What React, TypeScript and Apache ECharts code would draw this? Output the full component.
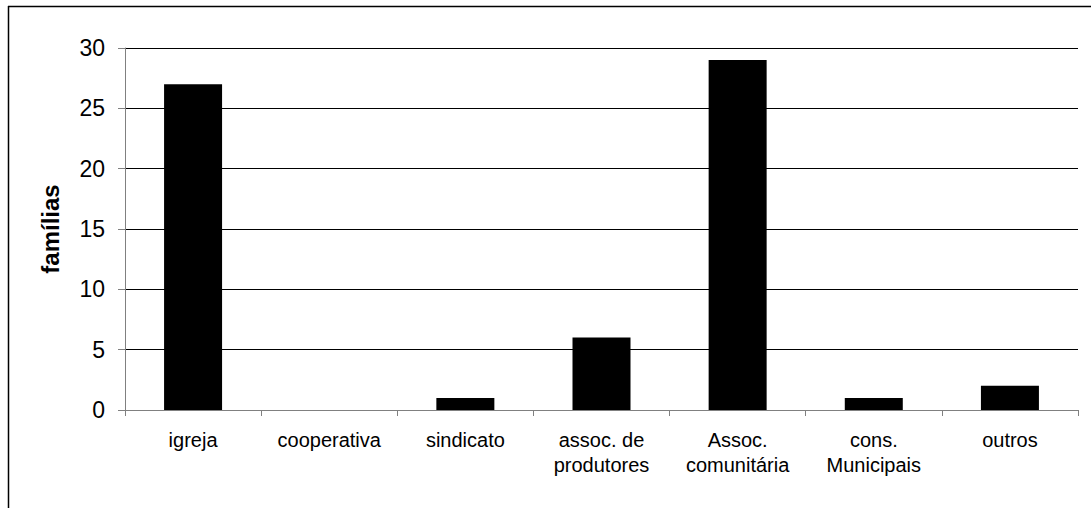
import React, { useEffect, useRef } from "react";
import * as echarts from "echarts";

const categories = [
  "igreja",
  "cooperativa",
  "sindicato",
  "assoc. de\nprodutores",
  "Assoc.\ncomunitária",
  "cons.\nMunicipais",
  "outros",
];
const values = [27, 0, 1, 6, 29, 1, 2];
const yTicks = { min: 0, max: 30, interval: 5 };
const yName = "famílias";

export default function App() {
  const ref = useRef<HTMLDivElement>(null);
  useEffect(() => {
    const chart = echarts.init(ref.current!, null, { renderer: "svg" });
    chart.setOption({
      animation: false,
      backgroundColor: "#ffffff",
      grid: { left: 125, right: 13, top: 48, bottom: 98 },
      graphic: [
        {
          type: "line",
          shape: { x1: 8.5, y1: 6, x2: 8.5, y2: 508 },
          style: { stroke: "#000", lineWidth: 1.5 },
        },
        {
          type: "line",
          shape: { x1: 8, y1: 6.5, x2: 1091, y2: 6.5 },
          style: { stroke: "#000", lineWidth: 1.5 },
        },
      ],
      xAxis: {
        type: "category",
        data: categories,
        axisLine: { lineStyle: { color: "#808080", width: 1 } },
        axisTick: { show: true, length: 6, alignWithLabel: false, lineStyle: { color: "#808080" } },
        axisLabel: {
          color: "#000",
          fontFamily: "Arial, Liberation Sans, sans-serif",
          fontSize: 20,
          lineHeight: 25,
          margin: 17,
          interval: 0,
        },
      },
      yAxis: {
        type: "value",
        min: yTicks.min,
        max: yTicks.max,
        interval: yTicks.interval,
        name: yName,
        nameLocation: "middle",
        nameGap: 63,
        nameTextStyle: {
          color: "#000",
          fontFamily: "Arial, Liberation Sans, sans-serif",
          fontSize: 24,
          fontWeight: "bold",
        },
        axisLine: { show: true, lineStyle: { color: "#808080", width: 1 } },
        axisTick: { show: true, length: 7, lineStyle: { color: "#808080" } },
        axisLabel: {
          color: "#000",
          fontFamily: "Arial, Liberation Sans, sans-serif",
          fontSize: 23,
          margin: 20,
        },
        splitLine: { show: true, lineStyle: { color: "#000", width: 1 } },
      },
      series: [
        {
          type: "bar",
          data: values,
          barWidth: 58,
          itemStyle: { color: "#000" },
        },
      ],
    });
    return () => chart.dispose();
  }, []);
  return (
    <div
      ref={ref}
      style={{ position: "absolute", left: 0, top: 0, width: 1091, height: 508 }}
    />
  );
}
